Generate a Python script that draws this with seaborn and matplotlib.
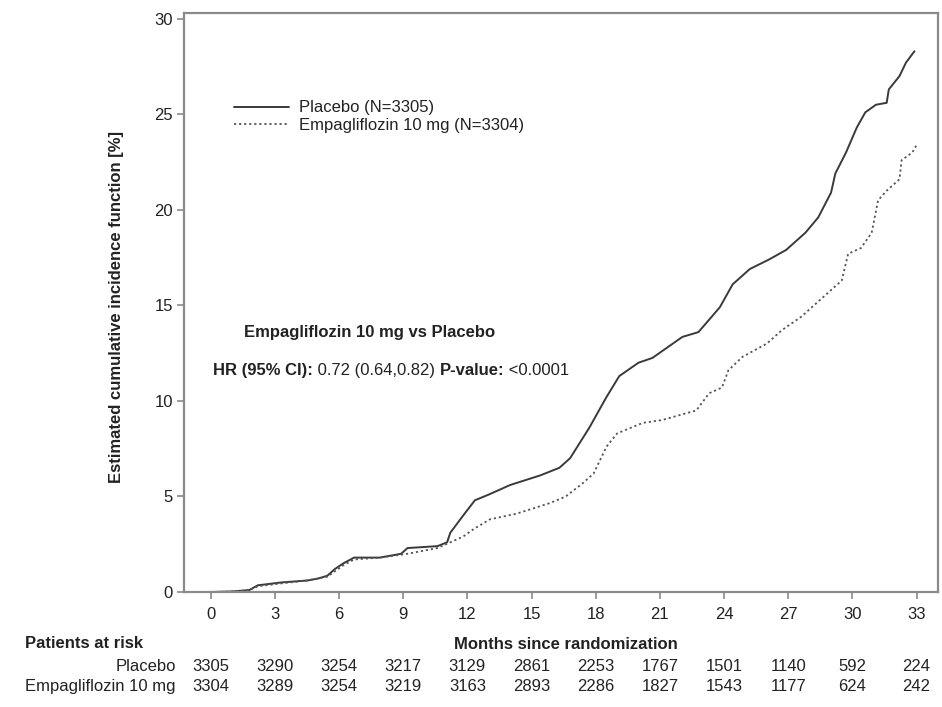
import numpy as np
import pandas as pd
import seaborn as sns
import matplotlib.pyplot as plt
from matplotlib.transforms import offset_copy

# Kurven (Monate, kumulative Inzidenz in %)
placebo_months = [0, 1, 1.8, 2.2, 3.3, 4.5, 5.0, 5.45, 5.8, 6.2, 6.7, 7.9, 8.9, 9.2, 10.6,
                  11.05, 11.2, 11.8, 12.35, 13.0, 14.0, 15.4, 16.3, 16.8, 17.7, 18.5, 19.1,
                  20.0, 20.65, 22.05, 22.8, 23.8, 24.4, 25.2, 26.1, 26.9, 27.8, 28.4, 29.0,
                  29.2, 29.7, 30.2, 30.6, 31.1, 31.6, 31.7, 32.2, 32.5, 32.9]
placebo_cif = [0, 0.03, 0.1, 0.35, 0.5, 0.6, 0.7, 0.85, 1.2, 1.5, 1.8, 1.8, 2.0, 2.3, 2.4,
               2.6, 3.1, 4.0, 4.8, 5.1, 5.6, 6.1, 6.5, 7.0, 8.6, 10.2, 11.3,
               12.0, 12.25, 13.35, 13.6, 14.9, 16.1, 16.9, 17.4, 17.9, 18.8, 19.6, 20.9,
               21.9, 23.0, 24.3, 25.1, 25.5, 25.6, 26.3, 27.0, 27.7, 28.3]

empa_months = [0, 1, 1.8, 2.2, 3.3, 4.5, 5.45, 6.2, 6.7, 7.9, 9.2, 10.6, 11.2, 11.8, 12.3,
               13.05, 14.3, 15.85, 16.6, 17.4, 17.9, 18.5, 19.0, 20.2, 21.1, 22.7, 23.3,
               23.9, 24.2, 24.85, 26.0, 26.7, 27.6, 28.8, 29.5, 29.8, 30.4, 30.9, 31.2,
               31.6, 32.2, 32.3, 32.8, 33.0]
empa_cif = [0, 0.02, 0.1, 0.3, 0.45, 0.6, 0.8, 1.4, 1.7, 1.8, 2.0, 2.3, 2.6, 2.9, 3.3,
            3.8, 4.1, 4.65, 5.0, 5.7, 6.2, 7.6, 8.3, 8.85, 9.0, 9.5, 10.4,
            10.7, 11.6, 12.3, 13.0, 13.7, 14.4, 15.6, 16.3, 17.7, 18.0, 18.8, 20.5,
            21.0, 21.6, 22.6, 23.0, 23.4]

# Patienten unter Risiko
risk_months = [0, 3, 6, 9, 12, 15, 18, 21, 24, 27, 30, 33]
risk_placebo = [3305, 3290, 3254, 3217, 3129, 2861, 2253, 1767, 1501, 1140, 592, 224]
risk_empa = [3304, 3289, 3254, 3219, 3163, 2893, 2286, 1827, 1543, 1177, 624, 242]

sns.set_style("white")
plt.rcParams['font.family'] = ['Liberation Sans', 'DejaVu Sans']
FS = 12
TXT = "#222222"

fig = plt.figure(figsize=(9.42, 7.07), dpi=100)
ax = fig.add_axes([184 / 942, 1 - 592 / 707, 754 / 942, 579 / 707])

sns.lineplot(x=placebo_months, y=placebo_cif, ax=ax, color="#3a3a3a", linewidth=1.4,
             label="Placebo (N=3305)")
sns.lineplot(x=empa_months, y=empa_cif, ax=ax, color="#555555", linewidth=1.3,
             linestyle=(0, (1.2, 1.6)), label="Empagliflozin 10 mg (N=3304)")

ax.set_xlim(-1.25, 34.0)
ax.set_ylim(0, 30.3)
ax.set_xticks(risk_months)
ax.set_yticks([0, 5, 10, 15, 20, 25, 30])
for s in ax.spines.values():
    s.set_color("#8a8a8a")
    s.set_linewidth(1.6)
ax.tick_params(axis="both", direction="out", length=5, width=1.2, color="#8a8a8a",
               labelsize=FS, labelcolor=TXT, left=True, bottom=True)
ax.tick_params(axis="x", pad=6)
ax.tick_params(axis="y", pad=3)

ax.set_ylabel("Estimated cumulative incidence function [%]", fontsize=FS,
              fontweight="bold", color=TXT)
ax.yaxis.set_label_coords(-0.08, 0.492)
ax.set_xlabel("Months since randomization", fontsize=FS, fontweight="bold", color=TXT)
ax.xaxis.set_label_coords(0.506, -0.077)

leg = ax.legend(loc="upper left", bbox_to_anchor=(0.046, 0.875), frameon=False,
                fontsize=FS, handlelength=3.3, handletextpad=0.6, labelspacing=0.15)
for t in leg.get_texts():
    t.set_color(TXT)

# Textblock HR
ax.text(0.0795, 0.449, "Empagliflozin 10 mg vs Placebo", transform=ax.transAxes,
        fontsize=FS, fontweight="bold", color=TXT, va="center")
pieces = [("HR (95% CI):", "bold"), (" 0.72 (0.64,0.82) ", "normal"),
          ("P-value:", "bold"), (" <0.0001", "normal")]
fig.canvas.draw()
renderer = fig.canvas.get_renderer()
tr = ax.transAxes
for txt, w in pieces:
    t = ax.text(0.0385, 0.383, txt, transform=tr, fontsize=FS, fontweight=w,
                color=TXT, va="center")
    ext = t.get_window_extent(renderer=renderer)
    tr = offset_copy(tr, fig=fig, x=ext.width, y=0, units="dots")

# Tabelle Patienten unter Risiko
fig.text(25 / 942, 1 - 644 / 707, "Patients at risk", fontsize=FS, fontweight="bold",
         color=TXT, va="center")
xt = ax.get_xaxis_transform()
row1, row2 = -0.1295, -0.164
ax.text(-0.011, row1, "Placebo", transform=ax.transAxes, ha="right", va="center",
        fontsize=FS, color=TXT)
ax.text(-0.011, row2, "Empagliflozin 10 mg", transform=ax.transAxes, ha="right",
        va="center", fontsize=FS, color=TXT)
for m, a, b in zip(risk_months, risk_placebo, risk_empa):
    ax.text(m, row1, str(a), transform=xt, ha="center", va="center", fontsize=FS,
            color=TXT, clip_on=False)
    ax.text(m, row2, str(b), transform=xt, ha="center", va="center", fontsize=FS,
            color=TXT, clip_on=False)

fig.savefig("out.png", dpi=100)
